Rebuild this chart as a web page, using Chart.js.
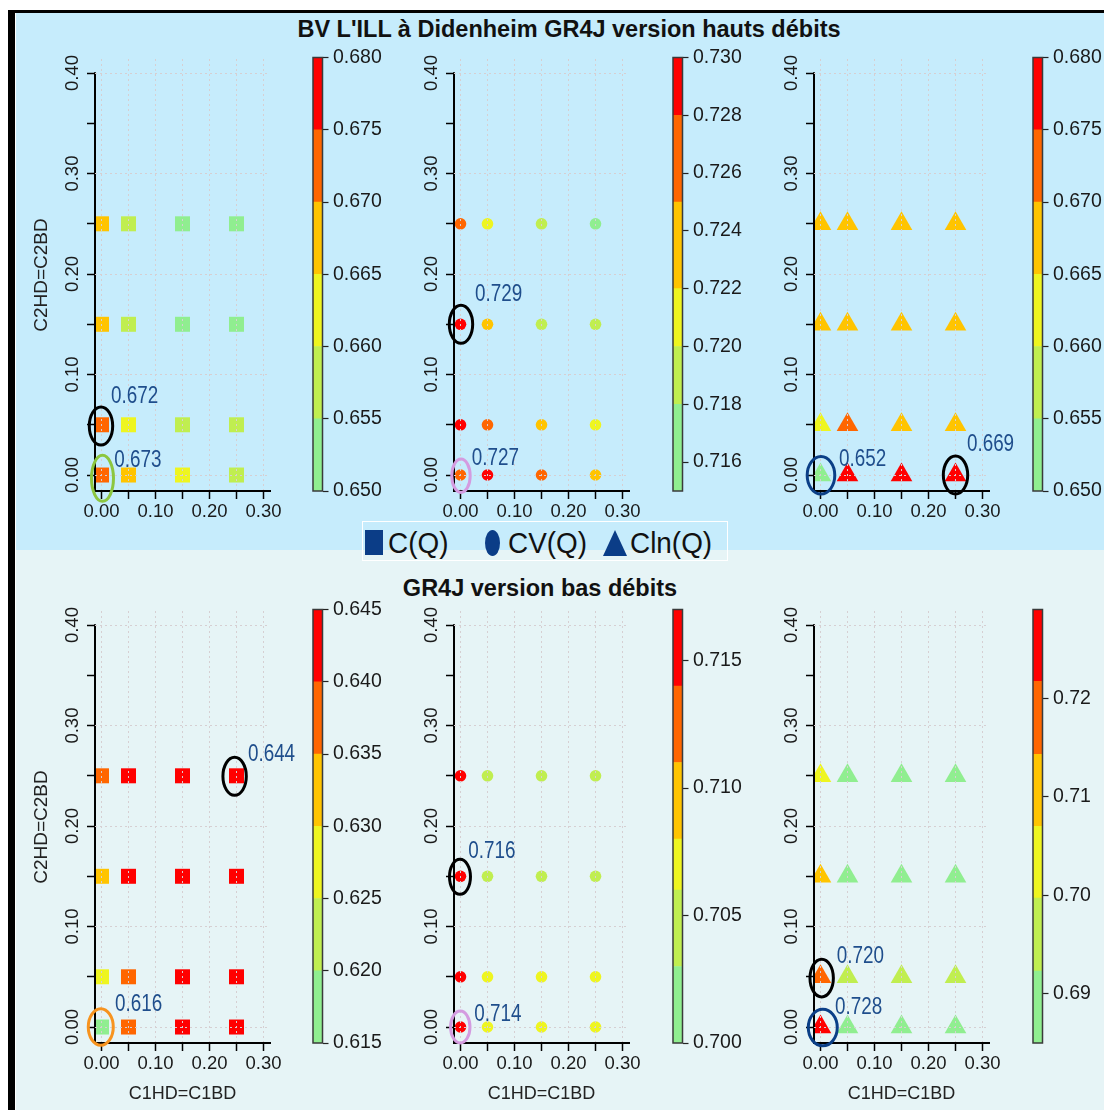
<!DOCTYPE html>
<html><head><meta charset="utf-8">
<script src="https://cdn.jsdelivr.net/npm/chart.js@4.4.1/dist/chart.umd.min.js"></script>
<style>
body{margin:0;width:1104px;height:1110px;position:relative;overflow:hidden;background:#fff;font-family:"Liberation Sans",Arial,sans-serif}
.abs{position:absolute}
canvas{position:absolute}
#frameTop{left:8px;top:10px;width:1096px;height:3px;background:#000}
#frameLeft{left:8px;top:10px;width:7px;height:1100px;background:#000}
#bgTop{left:16px;top:13px;width:1088px;height:537px;background:#C6ECFC}
#bgBot{left:16px;top:550px;width:1088px;height:560px;background:#E6F4F6}
.title{font-weight:bold;font-size:23.5px;line-height:28px;color:#111;white-space:nowrap;transform:translateX(-50%)}
#legend{left:362px;top:521px;width:364px;height:38px;border:1.5px solid #fff}
.lt{font-size:30px;line-height:34px;color:#111;white-space:nowrap;transform-origin:0 50%;transform:scaleX(0.93)}
</style></head>
<body>
<div id="frameTop" class="abs"></div>
<div id="frameLeft" class="abs"></div>
<div id="bgTop" class="abs"></div>
<div id="bgBot" class="abs"></div>
<div class="abs title" style="left:569px;top:15px">BV L'ILL à Didenheim GR4J version hauts débits</div>
<div class="abs title" style="left:540px;top:574px">GR4J version bas débits</div>
<div id="legend" class="abs"></div>
<div class="abs" style="left:365px;top:530px;width:18px;height:25px;background:#0B3D87"></div>
<div class="abs lt" style="left:388px;top:526px">C(Q)</div>
<div class="abs" style="left:485px;top:530px;width:15px;height:26px;border-radius:50%;background:#0B3D87"></div>
<div class="abs lt" style="left:508px;top:526px">CV(Q)</div>
<div class="abs" style="left:603px;top:530px;width:0;height:0;border-left:12.5px solid transparent;border-right:12.5px solid transparent;border-bottom:26px solid #0B3D87"></div>
<div class="abs lt" style="left:630px;top:526px">Cln(Q)</div>
<script>
// ---------- data ----------
const X_VALUES = [0, 0.05, 0.15, 0.25];          // C1HD=C1BD
const Y_VALUES = [0, 0.05, 0.15, 0.25];          // C2HD=C2BD
const X_TICKS = [0, 0.05, 0.10, 0.15, 0.20, 0.25, 0.30];
const Y_TICKS = [0, 0.05, 0.10, 0.15, 0.20, 0.25, 0.30, 0.35, 0.40];

// rows: y = 0, 0.05, 0.15, 0.25 ; columns: x = 0, 0.05, 0.15, 0.25
const HD_CQ  = [[0.673,0.668,0.662,0.658],[0.672,0.663,0.657,0.657],[0.667,0.658,0.653,0.653],[0.666,0.657,0.652,0.652]];
const HD_CV  = [[0.727,0.7285,0.726,0.724],[0.7288,0.7265,0.7235,0.721],[0.729,0.7235,0.719,0.719],[0.727,0.721,0.719,0.717]];
const HD_CLN = [[0.652,0.677,0.677,0.676],[0.663,0.672,0.668,0.668],[0.667,0.667,0.667,0.667],[0.667,0.667,0.667,0.667]];
const BD_CQ  = [[0.616,0.638,0.642,0.643],[0.628,0.637,0.642,0.643],[0.633,0.641,0.643,0.643],[0.637,0.642,0.643,0.644]];
const BD_CV  = [[0.7142,0.707,0.707,0.707],[0.715,0.707,0.707,0.707],[0.716,0.705,0.705,0.705],[0.7155,0.705,0.705,0.705]];
const BD_CLN = [[0.728,0.688,0.688,0.688],[0.720,0.695,0.695,0.695],[0.711,0.689,0.689,0.689],[0.703,0.689,0.689,0.689]];

// colour-bar class breaks and tick labels
const HD_CQ_BREAKS  = [0.650,0.655,0.660,0.665,0.670,0.675,0.680];
const HD_CV_BREAKS  = [0.715,0.718,0.720,0.722,0.725,0.728,0.730];
const HD_CLN_BREAKS = [0.650,0.655,0.660,0.665,0.670,0.675,0.680];
const BD_CQ_BREAKS  = [0.615,0.620,0.625,0.630,0.635,0.640,0.645];
const BD_CV_BREAKS  = [0.700,0.703,0.706,0.708,0.711,0.714,0.717];
const BD_CLN_BREAKS = [0.6850,0.6923,0.6997,0.7070,0.7143,0.7217,0.7290];
const HD_CQ_TICKS  = [0.650,0.655,0.660,0.665,0.670,0.675,0.680];
const HD_CV_TICKS  = [0.716,0.718,0.720,0.722,0.724,0.726,0.728,0.730];
const HD_CLN_TICKS = [0.650,0.655,0.660,0.665,0.670,0.675,0.680];
const BD_CQ_TICKS  = [0.615,0.620,0.625,0.630,0.635,0.640,0.645];
const BD_CV_TICKS  = [0.700,0.705,0.710,0.715];
const BD_CLN_TICKS = [0.69,0.70,0.71,0.72];

// highlighted points and their labels
const HD_CQ_NOTES  = [{x:0,y:0.05,text:'0.672'},{x:0,y:0,text:'0.673'}];
const HD_CV_NOTES  = [{x:0,y:0.15,text:'0.729'},{x:0,y:0,text:'0.727'}];
const HD_CLN_NOTES = [{x:0,y:0,text:'0.652'},{x:0.25,y:0,text:'0.669'}];
const BD_CQ_NOTES  = [{x:0.25,y:0.25,text:'0.644'},{x:0,y:0,text:'0.616'}];
const BD_CV_NOTES  = [{x:0,y:0.15,text:'0.716'},{x:0,y:0,text:'0.714'}];
const BD_CLN_NOTES = [{x:0,y:0.05,text:'0.720'},{x:0,y:0,text:'0.728'}];

// ---------- styles ----------
const BIN_COLORS = ['#90EE90','#C0EE50','#EEF520','#FFC400','#FF6600','#FF0000'];
const SANS = '"Liberation Sans",Arial,sans-serif';
const GRID = '#D6CFD2';
const NOTE_COLOR = '#1F4E8C';
const BLACK='#000', GREEN='#8CC63F', PLUM='#D49BE0', NAVY='#0B3F87', ORANGE='#F7931E';
// label offset (dx,dy), ellipse offset (ex,ey), radii, ring colour
const NOTE_STYLES = {
  HD_CQ:  [{dx:9.5,dy:-29.5,ex:-0.5,ey:1.2,rx:11.7,ry:19,ring:BLACK},{dx:12.8,dy:-15.8,ex:1,ey:3.3,rx:11,ry:23,ring:GREEN}],
  HD_CV:  [{dx:14.5,dy:-30.7,ex:0.5,ey:0,rx:11.7,ry:19,ring:BLACK},{dx:11.2,dy:-17.5,ex:0.5,ey:0.7,rx:9.2,ry:16.7,ring:PLUM}],
  HD_CLN: [{dx:18.5,dy:-16,ex:0.5,ey:0.3,rx:13.8,ry:18.7,ring:NAVY},{dx:11.4,dy:-31,ex:0,ey:0,rx:12.2,ry:19,ring:BLACK}],
  BD_CQ:  [{dx:11.4,dy:-22.2,ex:-1.9,ey:0.5,rx:11.7,ry:19,ring:BLACK},{dx:13.5,dy:-23.5,ex:-0.7,ey:0,rx:12.5,ry:18.3,ring:ORANGE}],
  BD_CV:  [{dx:7.8,dy:-26,ex:-0.5,ey:0.5,rx:10.5,ry:17.5,ring:BLACK},{dx:13.8,dy:-13.5,ex:-0.2,ey:0,rx:9.7,ry:16,ring:PLUM}],
  BD_CLN: [{dx:16.2,dy:-21.5,ex:1.2,ey:1.3,rx:11.7,ry:18.8,ring:BLACK},{dx:14.5,dy:-20,ex:2.3,ey:0.5,rx:14.5,ry:18.3,ring:NAVY}]
};
const SHAPES = {rect:{style:'rect',r:10.6}, circle:{style:'circle',r:5.8}, triangle:{style:'triangle',r:12.5}};

const PANELS = [
  {key:'HD_CQ', values:HD_CQ, breaks:HD_CQ_BREAKS, ticks:HD_CQ_TICKS, dec:3, notes:HD_CQ_NOTES, shape:'rect', col:0,row:0},
  {key:'HD_CV', values:HD_CV, breaks:HD_CV_BREAKS, ticks:HD_CV_TICKS, dec:3, notes:HD_CV_NOTES, shape:'circle', col:1,row:0},
  {key:'HD_CLN',values:HD_CLN,breaks:HD_CLN_BREAKS,ticks:HD_CLN_TICKS,dec:3, notes:HD_CLN_NOTES,shape:'triangle',col:2,row:0},
  {key:'BD_CQ', values:BD_CQ, breaks:BD_CQ_BREAKS, ticks:BD_CQ_TICKS, dec:3, notes:BD_CQ_NOTES, shape:'rect', col:0,row:1},
  {key:'BD_CV', values:BD_CV, breaks:BD_CV_BREAKS, ticks:BD_CV_TICKS, dec:3, notes:BD_CV_NOTES, shape:'circle', col:1,row:1},
  {key:'BD_CLN',values:BD_CLN,breaks:BD_CLN_BREAKS,ticks:BD_CLN_TICKS,dec:2, notes:BD_CLN_NOTES,shape:'triangle',col:2,row:1}
];
const COL_LEFT = [0,359,719], ROW_TOP = [30,582];
const CB_LEFT = [300,660,1020], CB_TOP = [40,592];

function isTenth(v){ return Math.abs(v*10 - Math.round(v*10)) < 1e-6; }
function colorFor(v, br){
  for (let i=0;i<br.length-1;i++){ if (v < br[i+1]) return BIN_COLORS[i]; }
  return BIN_COLORS[BIN_COLORS.length-1];
}

// y axis line drawn from the top tick down to the x axis (as in the original)
const yAxisLinePlugin = {
  id:'yAxisLine',
  afterDatasetsDraw(chart){
    const ctx = chart.ctx, ys = chart.scales.y, a = chart.chartArea;
    const top = ys.getPixelForValue(Y_TICKS[Y_TICKS.length-1]);
    ctx.save(); ctx.strokeStyle='#000'; ctx.lineWidth=2;
    ctx.beginPath(); ctx.moveTo(a.left, top-0.75); ctx.lineTo(a.left, a.bottom+1); ctx.stroke(); ctx.restore();
  }
};
const notesPlugin = {
  id:'notes',
  afterDraw(chart){
    const p = chart.$panel; if(!p) return;
    const ctx = chart.ctx, xs = chart.scales.x, ys = chart.scales.y;
    const st = NOTE_STYLES[p.key];
    p.notes.forEach((n,i)=>{
      const s = st[i];
      const px = xs.getPixelForValue(n.x), py = ys.getPixelForValue(n.y);
      ctx.save();
      ctx.lineWidth = 3; ctx.strokeStyle = s.ring;
      ctx.beginPath(); ctx.ellipse(px+s.ex, py+s.ey, s.rx, s.ry, 0, 0, Math.PI*2); ctx.stroke();
      ctx.translate(px+s.dx, py+s.dy); ctx.scale(0.82,1);
      ctx.fillStyle = NOTE_COLOR; ctx.font = '23px '+SANS;
      ctx.textAlign='left'; ctx.textBaseline='middle';
      ctx.fillText(n.text, 0, 1);
      ctx.restore();
    });
  }
};
const framePlugin = {
  id:'frame',
  afterDatasetsDraw(chart){
    const a = chart.chartArea, ctx = chart.ctx;
    ctx.save(); ctx.strokeStyle='#3a3a3a'; ctx.lineWidth=1.5;
    ctx.strokeRect(a.left, a.top, a.right-a.left, a.bottom-a.top); ctx.restore();
  }
};

function makeScatter(p){
  const cv = document.createElement('canvas');
  cv.width = 345; cv.height = 540;
  cv.style.left = COL_LEFT[p.col]+'px'; cv.style.top = ROW_TOP[p.row]+'px';
  document.body.appendChild(cv);
  const pts = [], cols = [];
  Y_VALUES.forEach((y,iy)=>X_VALUES.forEach((x,ix)=>{ const v = p.values[iy][ix]; pts.push({x:x,y:y}); cols.push(colorFor(v,p.breaks)); }));
  const sh = SHAPES[p.shape];
  const tickFont = {family:SANS, size:18.5};
  const chart = new Chart(cv, {
    type:'scatter',
    data:{datasets:[{data:pts, pointStyle:sh.style, pointRadius:sh.r, pointHoverRadius:sh.r, backgroundColor:cols, borderWidth:0}]},
    options:{
      responsive:false, animation:false, events:[],
      layout:{padding:{left:26.4, top:29, right:75, bottom:13.5}},
      plugins:{legend:{display:false}, tooltip:{enabled:false}, title:{display:false}},
      scales:{
        x:{type:'linear', min:-0.012, max:0.312,
           afterFit:s=>{s.height=65.5;},
           afterBuildTicks:s=>{s.ticks = X_TICKS.map(v=>({value:v}));},
           ticks:{autoSkip:false, minRotation:0, maxRotation:0, padding:2, font:tickFont, color:'#1a1a1a',
                  callback:v=> isTenth(v) ? v.toFixed(2) : ''},
           grid:{color:GRID, lineWidth:1, tickColor:'#000', tickLength:8, tickWidth:1.5, z:1},
           border:{display:true, color:'#000', width:2, dash:[2,3], z:2},
           title:{display:p.row===1, text:'C1HD=C1BD', font:{family:SANS,size:18}, color:'#222', padding:{top:4,bottom:4}}},
        y:{type:'linear', min:-0.0159, max:0.414,
           afterFit:s=>{s.width=68.6;},
           afterBuildTicks:s=>{s.ticks = Y_TICKS.map(v=>({value:v}));},
           ticks:{autoSkip:false, minRotation:90, maxRotation:90, crossAlign:'center', padding:-4, font:tickFont, color:'#1a1a1a',
                  callback:v=> isTenth(v) ? v.toFixed(2) : ''},
           grid:{color:c=> (c.tick && isTenth(c.tick.value)) ? GRID : 'rgba(0,0,0,0)', lineWidth:1, tickColor:'#000', tickLength:8, tickWidth:1.5, z:1},
           border:{display:false, dash:[2,3]},
           title:{display:p.col===0, text:'C2HD=C2BD', font:{family:SANS,size:19}, color:'#222', padding:{top:4,bottom:4}}}
      }
    },
    plugins:[yAxisLinePlugin, notesPlugin]
  });
  chart.$panel = p; chart.draw();
}

function makeColorbar(p){
  const cv = document.createElement('canvas');
  cv.width = 100; cv.height = 470;
  cv.style.left = CB_LEFT[p.col]+'px'; cv.style.top = CB_TOP[p.row]+'px';
  document.body.appendChild(cv);
  const br = p.breaks;
  const datasets = br.slice(0,-1).map((lo,i)=>({data:[[lo, br[i+1]]], backgroundColor:BIN_COLORS[i], borderWidth:0,
     grouped:false, barPercentage:1, categoryPercentage:1}));
  new Chart(cv, {
    type:'bar',
    data:{labels:[''], datasets},
    options:{
      responsive:false, animation:false, events:[],
      layout:{padding:{left:13, top:17.5, right:0, bottom:19}},
      plugins:{legend:{display:false}, tooltip:{enabled:false}},
      scales:{
        x:{display:false},
        y:{position:'right', min:br[0], max:br[br.length-1],
           afterFit:s=>{s.width=77.5;},
           afterBuildTicks:s=>{s.ticks = p.ticks.map(v=>({value:v}));},
           ticks:{autoSkip:false, padding:4.5, font:{family:SANS,size:19.5}, color:'#1a1a1a', callback:v=>Number(v).toFixed(p.dec)},
           grid:{drawOnChartArea:false, tickColor:'#222', tickLength:6, tickWidth:1.2},
           border:{display:false}}
      }
    },
    plugins:[framePlugin]
  });
}

PANELS.forEach(p=>{ makeScatter(p); makeColorbar(p); });
</script>
</body></html>
